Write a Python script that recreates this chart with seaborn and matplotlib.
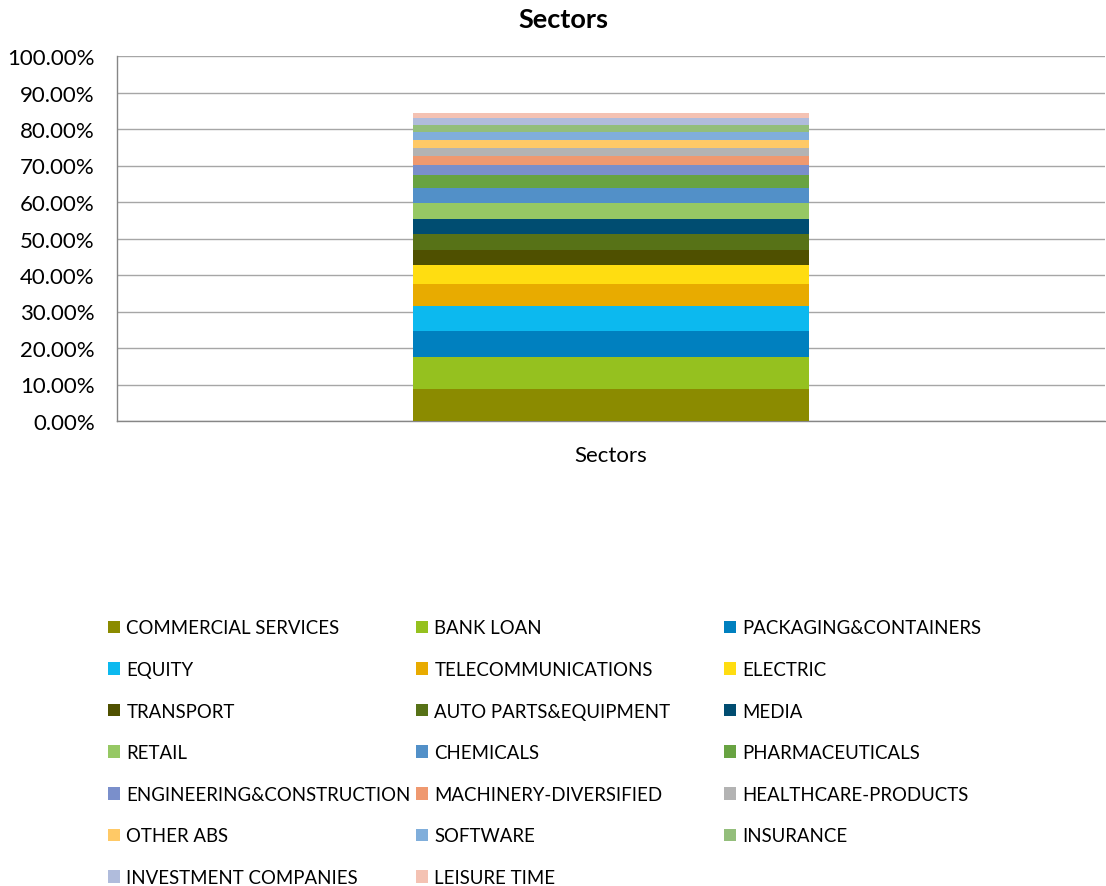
import matplotlib
matplotlib.use("Agg")
import matplotlib.pyplot as plt
from matplotlib.patches import Patch
import seaborn as sns
import pandas as pd
import numpy as np

categories = ["Sectors"]
sectors = [
    "COMMERCIAL SERVICES", "BANK LOAN", "PACKAGING&CONTAINERS",
    "EQUITY", "TELECOMMUNICATIONS", "ELECTRIC",
    "TRANSPORT", "AUTO PARTS&EQUIPMENT", "MEDIA",
    "RETAIL", "CHEMICALS", "PHARMACEUTICALS",
    "ENGINEERING&CONSTRUCTION", "MACHINERY-DIVERSIFIED", "HEALTHCARE-PRODUCTS",
    "OTHER ABS", "SOFTWARE", "INSURANCE",
    "INVESTMENT COMPANIES", "LEISURE TIME",
]
values = [8.75, 8.85, 7.0, 6.85, 6.0, 5.2, 4.1, 4.4, 4.1, 4.4,
          4.1, 3.6, 2.7, 2.5, 2.2, 2.2, 2.2, 1.9, 1.9, 1.5]
colors = ["#8B8B00", "#95C11F", "#0080BF", "#0CB9EF", "#E8AB00", "#FFDD11",
          "#4F5000", "#577217", "#004D71", "#96C864", "#5290C8", "#68A342",
          "#7A8FCB", "#EF9970", "#B3B3B3", "#FFC966", "#80AEDB", "#93BE7B",
          "#B0BCDC", "#F4C2B3"]
yticks = [0, 10, 20, 30, 40, 50, 60, 70, 80, 90, 100]

sns.set_theme(style="white")
plt.rcParams["font.family"] = ["Lato", "DejaVu Sans"]
plt.rcParams["text.color"] = "black"

W, H = 1106, 887
fig = plt.figure(figsize=(W / 100, H / 100), dpi=100)
ax = fig.add_axes([117 / W, 1 - 422 / H, (1105 - 117) / W, (422 - 57) / H])

cum = np.cumsum(values)
for i in range(len(values) - 1, -1, -1):
    df = pd.DataFrame({"cat": categories, "val": [cum[i]]})
    sns.barplot(data=df, x="cat", y="val", color=colors[i], saturation=1,
                width=0.4, ax=ax, zorder=3, linewidth=0, edgecolor="none")

ax.set_xlim(-0.5, 0.5)
ax.set_ylim(0, 100)
ax.set_yticks(yticks)
ax.set_yticklabels([f"{t:.2f}%" for t in yticks], fontsize=16, color="black")
ax.tick_params(axis="x", labelsize=16, colors="black", length=0, pad=17)
ax.tick_params(axis="y", length=0, pad=16)
ax.set_xlabel("")
ax.set_ylabel("")
ax.yaxis.grid(True, color="#A6A6A6", linewidth=1, zorder=0)
ax.set_axisbelow(True)
for s in ["top", "right"]:
    ax.spines[s].set_visible(False)
ax.spines["left"].set_color("#868686")
ax.spines["bottom"].set_color("#868686")
ax.spines["left"].set_linewidth(1)
ax.spines["bottom"].set_linewidth(1)

fig.text(563 / W, 1 - 20 / H, "Sectors", ha="center", va="center",
         fontsize=19.5, fontweight="bold", color="black")

# legend: three columns laid out row by row
col_x = [108, 416, 724]
for c in range(3):
    idx = list(range(c, len(sectors), 3))
    handles = [Patch(facecolor=colors[k], edgecolor="none") for k in idx]
    labels = [sectors[k] for k in idx]
    leg = fig.legend(handles, labels, loc="upper left",
                     bbox_to_anchor=(col_x[c] / W, 1 - 620.5 / H),
                     frameon=False, fontsize=13.4, handlelength=0.66, handleheight=0.66,
                     handletextpad=0.33, labelspacing=1.32, borderpad=0, borderaxespad=0)
    for t in leg.get_texts():
        t.set_color("black")

fig.savefig("out.png", dpi=100)
